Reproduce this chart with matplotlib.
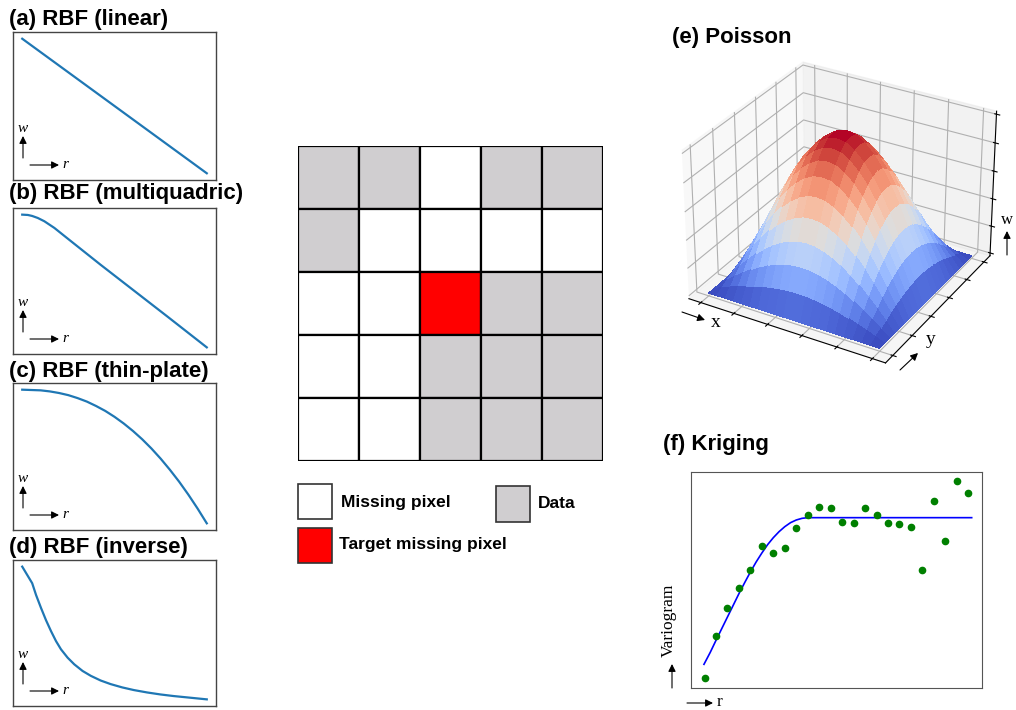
import numpy as np
import matplotlib.pyplot as plt
from matplotlib.patches import Rectangle

# ---- data ----
r_linear = [0.0, 1.0]
w_linear = [1.0, 0.0]

r_multi = [0.0, 0.0305, 0.054, 0.084, 0.12, 0.174, 0.246, 0.425, 0.605, 0.785, 1.0]
w_multi = [1.0, 0.9975, 0.99, 0.975, 0.95, 0.90, 0.82, 0.622, 0.428, 0.234, 0.0]

r_thin = [0.0, 0.1, 0.15, 0.2, 0.25, 0.3, 0.35, 0.4, 0.45, 0.5, 0.55, 0.6, 0.65,
          0.7, 0.75, 0.8, 0.85, 0.9, 0.95, 1.0]
w_thin = [1.0, 0.995, 0.987, 0.975, 0.959, 0.937, 0.911, 0.878, 0.841, 0.797, 0.747,
          0.691, 0.629, 0.56, 0.484, 0.401, 0.312, 0.215, 0.111, 0.0]

r_inv = [0.0, 0.054, 0.075, 0.102, 0.129, 0.156, 0.183, 0.21, 0.246, 0.282, 0.327,
         0.372, 0.425, 0.479, 0.542, 0.605, 0.677, 0.749, 0.82, 0.892, 1.0]
w_inv = [1.0, 0.875, 0.786, 0.688, 0.596, 0.514, 0.439, 0.377, 0.314, 0.264, 0.214,
         0.177, 0.142, 0.115, 0.09, 0.07, 0.052, 0.037, 0.025, 0.015, 0.0]

# d = data, m = missing pixel, t = target missing pixel
grid_rows = ["ddmdd", "dmmmm", "mmtdd", "mmddd", "mmddd"]
cell_colors = {"d": "#d0ced0", "m": "white", "t": "red"}

# Poisson surface: 1D profile along x and y
poisson_profile = [0.0, 0.16, 0.31, 0.45, 0.59, 0.71, 0.81, 0.89, 0.95, 0.99, 1.0,
                   0.99, 0.95, 0.89, 0.81, 0.71, 0.59, 0.45, 0.31, 0.16, 0.0]

# Kriging variogram
lag = list(range(1, 25))
gamma = [3.0, 15.5, 24.0, 29.9, 35.4, 42.5, 40.6, 42.0, 48.0, 52.0, 54.3, 54.1,
         49.9, 49.5, 54.1, 52.0, 49.4, 49.2, 48.4, 35.5, 56.1, 44.1, 62.1, 58.6]
model_lag = [0.95, 1.5, 2, 2.5, 3, 3.5, 4, 4.5, 5, 5.5, 6, 6.5, 7, 7.5, 8, 8.5, 9, 9.5, 10, 24.3]
model_gamma = [7.1, 10.7, 14.3, 17.8, 21.3, 24.8, 28.3, 31.6, 34.8, 37.8, 40.5, 43.0,
               45.1, 46.9, 48.4, 49.6, 50.4, 50.9, 51.1, 51.1]

W, H = 1016, 710
fig = plt.figure(figsize=(W / 100, H / 100), dpi=100)


def fx(px):
    return px / W


def fy(py):
    return 1 - py / H


def box(l, t, r, b):
    return [fx(l), fy(b), (r - l) / W, (b - t) / H]


def title(x, y, s, size=16):
    fig.text(fx(x), fy(y), s, family='Liberation Sans', weight='bold',
             fontsize=size, ha='left', va='center')


def arrow(x0, y0, x1, y1):
    # arrow in figure pixels
    fig.add_artist(plt.Annotation('', xy=(fx(x1), fy(y1)), xytext=(fx(x0), fy(y0)),
                                  xycoords='figure fraction', textcoords='figure fraction',
                                  arrowprops=dict(arrowstyle='-|>', color='black', lw=0.8,
                                                  mutation_scale=11, shrinkA=0, shrinkB=0)))


def serif(x, y, s, size=12, style='normal', rotation=0):
    fig.text(fx(x), fy(y), s, family='Liberation Serif', style=style, fontsize=size,
             ha='center', va='center', rotation=rotation)


def rbf_panel(top, bottom, ttl, ty, r, w):
    ax = fig.add_axes(box(13, top, 216, bottom))
    ax.plot(r, w, color='#1f77b4', lw=1.6)
    ax.set_xticks([])
    ax.set_yticks([])
    for s in ax.spines.values():
        s.set_color('#444444')
        s.set_linewidth(1.0)
    title(9, ty, ttl)
    arrow(23, bottom - 22, 23, bottom - 44)
    serif(23, bottom - 52, 'w', size=11, style='italic')
    arrow(30, bottom - 15, 59, bottom - 15)
    serif(65, bottom - 15, 'r', size=11, style='italic')


rbf_panel(32, 180, '(a) RBF (linear)', 19, r_linear, w_linear)
rbf_panel(208, 354, '(b) RBF (multiquadric)', 194, r_multi, w_multi)
rbf_panel(383, 530, '(c) RBF (thin-plate)', 372, r_thin, w_thin)
rbf_panel(560, 706, '(d) RBF (inverse)', 548, r_inv, w_inv)

# ---- center grid ----
gax = fig.add_axes(box(298, 146, 603, 461))
n = len(grid_rows)
for i, row in enumerate(grid_rows):
    for j, c in enumerate(row):
        gax.add_patch(Rectangle((j, n - 1 - i), 1, 1, facecolor=cell_colors[c],
                                edgecolor='black', lw=1.6))
gax.set_xlim(0, n)
gax.set_ylim(0, n)
gax.axis('off')

# legend
for (l, t, r, b), c in [((298, 484, 332, 519), 'm'), ((496, 486, 530, 522), 'd'),
                        ((298, 528, 332, 563), 't')]:
    fig.add_artist(Rectangle((fx(l), fy(b)), (r - l) / W, (b - t) / H,
                             transform=fig.transFigure, facecolor=cell_colors[c],
                             edgecolor='#333333', lw=1.2))
fig.text(fx(341), fy(502), 'Missing pixel', family='Liberation Sans', weight='bold',
         fontsize=12.5, va='center')
fig.text(fx(538), fy(504), 'Data', family='Liberation Sans', weight='bold',
         fontsize=12.5, va='center')
fig.text(fx(339), fy(545), 'Target missing pixel', family='Liberation Sans', weight='bold',
         fontsize=12.5, va='center')

# ---- (e) Poisson ----
ax3 = fig.add_axes(box(645, 35, 1030, 385), projection='3d')
xs = np.linspace(0, 1, len(poisson_profile))
X, Y = np.meshgrid(xs, xs)
Z = np.outer(poisson_profile, poisson_profile)
ax3.plot_surface(X, Y, Z, cmap='coolwarm', linewidth=0, antialiased=False)
ax3.set_xticklabels([])
ax3.set_yticklabels([])
ax3.set_zticklabels([])
title(672, 38, '(e) Poisson')
arrow(682, 312, 705, 320)
serif(716, 322, 'x', size=14)
arrow(900, 370, 918, 353)
serif(931, 339, 'y', size=14)
arrow(1007, 255, 1007, 231)
serif(1007, 220, 'w', size=12)

# ---- (f) Kriging ----
kax = fig.add_axes(box(691, 472, 982, 688))
kax.plot(model_lag, model_gamma, color='blue', lw=1.2)
kax.plot(lag, gamma, 'o', color='green', ms=4.5)
kax.set_xlim(-0.18, 25.2)
kax.set_ylim(0, 64.8)
kax.set_xticks([])
kax.set_yticks([])
for s in kax.spines.values():
    s.set_color('#555555')
title(663, 444, '(f) Kriging')
serif(669, 620, 'Variogram', size=12.5, rotation=90)
arrow(672, 688, 672, 664)
arrow(687, 703, 713, 703)
serif(720, 702, 'r', size=12.5)

fig.savefig('out.png', dpi=100)
